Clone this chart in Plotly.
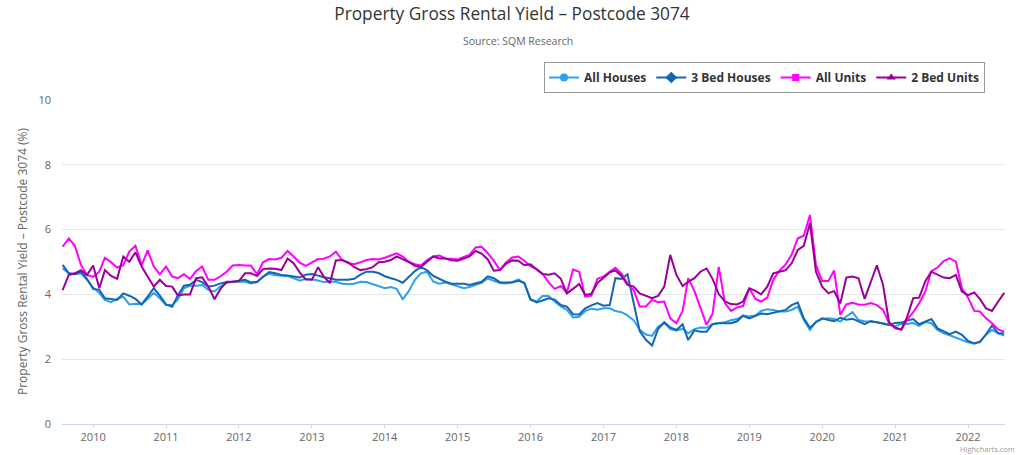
import pandas as pd
import plotly.graph_objects as go

# Monthly readings, Aug 2009 .. Jul 2022
dates = pd.date_range("2009-08-01", "2022-07-01", freq="MS")

all_houses = [
    4.80, 4.65, 4.62, 4.65, 4.45,
    4.21, 4.04, 3.83, 3.76, 3.86, 3.93, 3.69, 3.71, 3.70, 3.86, 4.05, 3.88,
    3.67, 3.67, 3.84, 4.19, 4.27, 4.27, 4.29, 4.14, 4.09, 4.25, 4.35, 4.39,
    4.39, 4.39, 4.34, 4.37, 4.55, 4.64, 4.59, 4.57, 4.57, 4.50, 4.42, 4.48,
    4.47, 4.43, 4.38, 4.39, 4.39, 4.33, 4.31, 4.33, 4.39, 4.38, 4.32, 4.24,
    4.19, 4.23, 4.17, 3.85, 4.10, 4.45, 4.65, 4.70, 4.39, 4.33, 4.37, 4.31,
    4.26, 4.19, 4.23, 4.29, 4.36, 4.49, 4.42, 4.35, 4.34, 4.38, 4.46, 4.34,
    3.83, 3.78, 3.95, 3.95, 3.78, 3.63, 3.52, 3.29, 3.31, 3.49, 3.56, 3.53,
    3.57, 3.57, 3.49, 3.45, 3.35, 3.20, 2.91, 2.76, 2.72, 3.00, 3.12, 2.93,
    2.89, 2.94, 2.80, 2.93, 2.98, 2.97, 3.09, 3.11, 3.14, 3.20, 3.24, 3.35,
    3.32, 3.35, 3.49, 3.54, 3.52, 3.47, 3.47, 3.52, 3.62, 3.21, 2.90, 3.16,
    3.24, 3.26, 3.24, 3.16, 3.32, 3.45, 3.21, 3.17, 3.16, 3.14, 3.11, 3.06,
    3.02, 3.09, 3.09, 3.12, 3.03, 3.15, 3.11, 2.90, 2.80, 2.74, 2.67, 2.59,
    2.52, 2.48, 2.54, 2.76, 2.90, 2.80, 2.73,
]

bed3_houses = [
    4.91, 4.65, 4.62, 4.70, 4.48,
    4.17, 4.14, 3.88, 3.86, 3.83, 4.03, 3.96, 3.86, 3.69, 3.93, 4.19, 3.96,
    3.69, 3.62, 3.97, 4.27, 4.30, 4.45, 4.38, 4.24, 4.27, 4.34, 4.38, 4.39,
    4.41, 4.45, 4.37, 4.39, 4.54, 4.69, 4.65, 4.60, 4.58, 4.55, 4.52, 4.61,
    4.63, 4.58, 4.53, 4.50, 4.45, 4.45, 4.45, 4.48, 4.61, 4.70, 4.70, 4.66,
    4.56, 4.50, 4.45, 4.36, 4.55, 4.72, 4.85, 4.74, 4.57, 4.47, 4.39, 4.33,
    4.33, 4.33, 4.29, 4.33, 4.39, 4.56, 4.50, 4.37, 4.38, 4.37, 4.42, 4.36,
    3.85, 3.75, 3.81, 3.88, 3.84, 3.67, 3.62, 3.39, 3.38, 3.57, 3.66, 3.73,
    3.65, 3.67, 4.50, 4.48, 4.62, 3.76, 2.87, 2.60, 2.42, 2.93, 3.14, 2.98,
    2.90, 3.08, 2.59, 2.89, 2.85, 2.85, 3.08, 3.11, 3.11, 3.11, 3.17, 3.34,
    3.26, 3.33, 3.41, 3.39, 3.43, 3.48, 3.52, 3.67, 3.75, 3.26, 2.97, 3.14,
    3.26, 3.21, 3.17, 3.28, 3.22, 3.25, 3.16, 3.08, 3.18, 3.14, 3.08, 3.06,
    3.12, 3.13, 3.19, 3.24, 3.08, 3.16, 3.24, 2.95, 2.85, 2.77, 2.85, 2.75,
    2.56, 2.49, 2.53, 2.77, 3.04, 2.80, 2.80,
]

all_units = [
    5.47, 5.73, 5.50, 4.91, 4.60,
    4.54, 4.70, 5.13, 4.99, 4.83, 4.90, 5.32, 5.50, 4.90, 5.36, 4.86, 4.62,
    4.86, 4.55, 4.50, 4.62, 4.48, 4.72, 4.86, 4.45, 4.45, 4.56, 4.70, 4.89,
    4.91, 4.89, 4.89, 4.62, 4.99, 5.09, 5.08, 5.13, 5.34, 5.17, 4.98, 4.88,
    4.99, 5.09, 5.10, 5.17, 5.32, 5.06, 4.97, 4.93, 4.99, 5.06, 5.09, 5.08,
    5.13, 5.20, 5.27, 5.17, 5.00, 4.93, 4.89, 5.06, 5.17, 5.20, 5.11, 5.10,
    5.08, 5.16, 5.22, 5.45, 5.47, 5.27, 5.04, 4.75, 4.99, 5.14, 5.17, 5.04,
    4.87, 4.78, 4.64, 4.37, 4.17, 4.26, 4.05, 4.77, 4.70, 3.93, 3.96, 4.48,
    4.55, 4.70, 4.82, 4.64, 4.33, 4.13, 3.63, 3.63, 3.83, 3.76, 3.78, 3.26,
    3.11, 3.49, 4.50, 4.11, 3.57, 3.06, 3.40, 4.85, 3.73, 3.49, 3.60, 3.64,
    4.19, 3.86, 3.78, 3.90, 4.45, 4.73, 4.92, 5.22, 5.73, 5.81, 6.45, 4.91,
    4.41, 4.41, 4.74, 3.37, 3.69, 3.74, 3.69, 3.68, 3.73, 3.67, 3.52, 3.11,
    2.96, 2.91, 3.21, 3.45, 3.73, 4.09, 4.72, 4.83, 5.03, 5.11, 5.01, 4.19,
    3.90, 3.49, 3.47, 3.26, 3.11, 2.92, 2.85,
]

bed2_units = [
    4.13, 4.60, 4.65, 4.75, 4.60,
    4.89, 4.19, 4.75, 4.57, 4.48, 5.17, 5.01, 5.30, 4.86, 4.55, 4.24, 4.45,
    4.26, 4.24, 3.97, 4.00, 4.00, 4.50, 4.53, 4.24, 3.85, 4.17, 4.39, 4.39,
    4.41, 4.65, 4.65, 4.57, 4.78, 4.80, 4.79, 4.75, 5.11, 4.96, 4.68, 4.46,
    4.45, 4.84, 4.55, 4.35, 5.05, 5.06, 4.99, 4.84, 4.75, 4.78, 4.84, 4.99,
    5.01, 5.06, 5.17, 5.09, 5.00, 4.88, 4.85, 5.01, 5.17, 5.11, 5.11, 5.05,
    5.04, 5.11, 5.17, 5.34, 5.26, 5.08, 4.73, 4.75, 4.95, 5.05, 5.04, 4.90,
    4.93, 4.77, 4.63, 4.61, 4.65, 4.48, 4.03, 4.17, 4.32, 3.98, 4.02, 4.35,
    4.52, 4.68, 4.74, 4.57, 4.29, 4.24, 4.03, 3.95, 3.88, 3.95, 4.24, 5.22,
    4.60, 4.26, 4.39, 4.50, 4.70, 4.80, 4.48, 4.01, 3.78, 3.70, 3.69, 3.78,
    4.19, 4.11, 4.00, 4.24, 4.65, 4.70, 4.74, 4.96, 5.37, 5.50, 6.20, 4.70,
    4.24, 4.04, 4.10, 3.72, 4.52, 4.55, 4.50, 3.86, 4.39, 4.90, 4.30, 3.14,
    2.97, 2.92, 3.29, 3.88, 3.90, 4.41, 4.70, 4.60, 4.52, 4.50, 4.60, 4.09,
    3.98, 4.06, 3.86, 3.57, 3.49, 3.78, 4.05,
]

series_names = ["All Houses", "3 Bed Houses", "All Units", "2 Bed Units"]
series_values = [all_houses, bed3_houses, all_units, bed2_units]
series_colors = ["#2f9ff0", "#1565b0", "#ff00ff", "#990099"]
series_symbols = ["circle", "diamond", "square", "triangle-up"]
series_msize = [8, 9, 7, 8]

FONT = "Open Sans, DejaVu Sans, sans-serif"

fig = go.Figure()
for name, vals, col in zip(series_names, series_values, series_colors):
    fig.add_trace(go.Scatter(
        x=dates, y=vals, mode="lines", name=name, legendgroup=name,
        showlegend=False, line=dict(color=col, width=2), hoverinfo="x+y+name"))
for name, col, sym, ms in zip(series_names, series_colors, series_symbols, series_msize):
    fig.add_trace(go.Scatter(
        x=[None], y=[None], mode="lines+markers", name=name, legendgroup=name,
        line=dict(color=col, width=2), marker=dict(symbol=sym, size=ms, color=col)))

L, R, T, B = 62, 1005, 100, 424
W, H = 1024, 455


def px_x(px):
    return (px - L) / (R - L)


def px_y(py):
    return (B - py) / (B - T)


fig.update_layout(
    width=W, height=H,
    margin=dict(l=L, r=W - R, t=T, b=H - B, pad=0, autoexpand=False),
    paper_bgcolor="white", plot_bgcolor="white",
    font=dict(family=FONT, size=11, color="#666666"),
    title=dict(text="Property Gross Rental Yield – Postcode 3074",
               x=0.5, xref="container", xanchor="center",
               y=1 - 14 / H, yref="container", yanchor="middle",
               font=dict(family=FONT, size=17.3, color="#333333")),
    showlegend=True,
    legend=dict(orientation="h", x=px_x(985), xanchor="right",
                y=px_y(62), yanchor="top",
                bordercolor="#999999", borderwidth=1, bgcolor="white",
                font=dict(family=FONT, size=12, color="#333333", weight="bold"),
                itemwidth=30, tracegroupgap=0),
    xaxis=dict(type="date", range=["2009-07-29", "2022-07-05"],
               tick0="2010-01-01", dtick="M12", tickformat="%Y",
               ticks="outside", ticklen=3, tickcolor="#ccd6eb", tickwidth=1,
               showline=True, linecolor="#ccd6eb", linewidth=1,
               showgrid=False, zeroline=False, automargin=False,
               tickfont=dict(family=FONT, size=11, color="#666666")),
    yaxis=dict(range=[0, 10], tick0=0, dtick=2,
               gridcolor="#e6e6e6", gridwidth=1, zeroline=False,
               showline=False, ticks="", ticklabelstandoff=10, automargin=False,
               tickfont=dict(family=FONT, size=11, color="#666666")),
    annotations=[
        dict(text="Source: SQM Research", xref="paper", yref="paper",
             x=px_x(518), y=px_y(41), xanchor="center", yanchor="middle",
             showarrow=False, font=dict(family=FONT, size=10.5, color="#666666")),
        dict(text="Property Gross Rental Yield – Postcode 3074 (%)",
             xref="paper", yref="paper", x=px_x(22), y=0.5, textangle=-90,
             xanchor="center", yanchor="middle", showarrow=False,
             font=dict(family=FONT, size=12, color="#666666")),
        dict(text="Highcharts.com", xref="paper", yref="paper",
             x=px_x(1016), y=px_y(455), xanchor="right", yanchor="bottom",
             borderpad=0, showarrow=False,
             font=dict(family=FONT, size=7.5, color="#999999")),
    ],
)

fig.write_html("out.html", config={"displayModeBar": False},
               post_script="document.body.style.margin='0';document.body.style.overflow='hidden';")
